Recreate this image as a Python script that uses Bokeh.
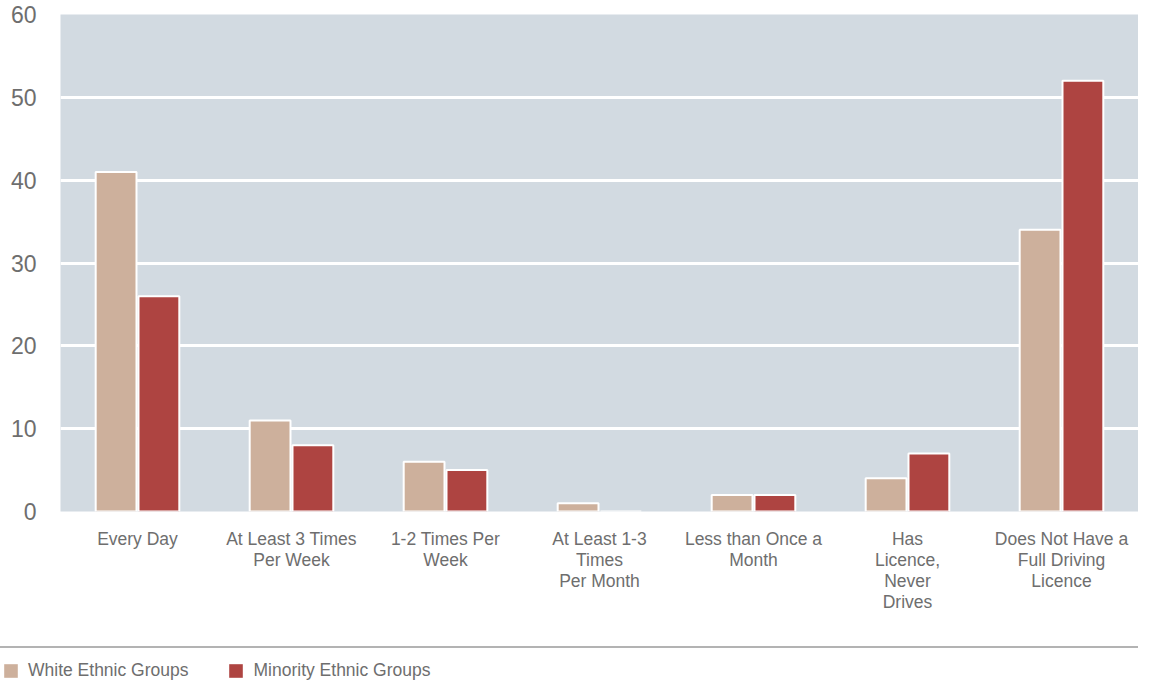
from bokeh.plotting import figure
from bokeh.models import (ColumnDataSource, FactorRange, FixedTicker, Range1d,
                          Legend, LegendItem, Div)
from bokeh.transform import dodge
from bokeh.layouts import column, row
from bokeh.embed import file_html
from bokeh.resources import INLINE

categories = ["Every Day", "At Least 3 Times\nPer Week", "1-2 Times Per\nWeek",
              "At Least 1-3\nTimes\nPer Month", "Less than Once a\nMonth",
              "Has\nLicence,\nNever\nDrives", "Does Not Have a\nFull Driving\nLicence"]
white_groups = [41, 11, 6, 1, 2, 4, 34]
minority_groups = [26, 8, 5, 0, 2, 7, 52]
series_names = ["White Ethnic Groups", "Minority Ethnic Groups"]
y_ticks = [0, 10, 20, 30, 40, 50, 60]

WHITE_C = "#cdb09c"
MINOR_C = "#ae4441"
BG = "#d2dae1"
TXT = "#6e6e6e"
FONT = "'Liberation Sans', Arial, sans-serif"

source = ColumnDataSource(dict(cat=categories, white=white_groups, minority=minority_groups))

p = figure(x_range=FactorRange(*categories), y_range=Range1d(0, 60),
           width=1138, height=646, output_backend="svg", toolbar_location=None,
           min_border_left=60, min_border_right=0, min_border_top=14, min_border_bottom=135,
           background_fill_color=BG, border_fill_color="white", outline_line_color=None)

p.vbar(x=dodge("cat", -0.139, range=p.x_range), top="white", width=0.265, source=source,
       fill_color=WHITE_C, line_color="white", line_width=2)
p.vbar(x=dodge("cat", 0.139, range=p.x_range), top="minority", width=0.265, source=source,
       fill_color=MINOR_C, line_color="white", line_width=2)

p.xgrid.grid_line_color = None
p.ygrid.grid_line_color = "white"
p.ygrid.grid_line_width = 3
p.yaxis.ticker = FixedTicker(ticks=y_ticks)

for ax in (p.xaxis[0], p.yaxis[0]):
    ax.axis_line_color = None
    ax.major_tick_line_color = None
    ax.minor_tick_line_color = None
    ax.major_label_text_color = TXT
    ax.major_label_text_font = FONT

p.yaxis.major_label_text_font_size = "23px"
p.yaxis.major_label_standoff = 18
p.xaxis.major_label_text_font_size = "17.5px"
p.xaxis.major_label_standoff = 11
p.xaxis.major_label_text_line_height = 1.05

# separator line
sep = Div(text="", width=1138, height=2, margin=0,
          styles={"background-color": "#b3b3b3"})

# legend strip
p2 = figure(width=1138, height=36, x_range=Range1d(0, 1138), y_range=Range1d(0, 36),
            output_backend="svg", toolbar_location=None, min_border=0,
            min_border_left=0, min_border_right=0,
            outline_line_color=None, x_axis_type=None, y_axis_type=None)
p2.grid.visible = False
dummy = ColumnDataSource(dict(x=[-1000], top=[0]))
r1 = p2.vbar(x="x", top="top", width=1, source=dummy, fill_color=WHITE_C, line_color=None)
r2 = p2.vbar(x="x", top="top", width=1, source=dummy, fill_color=MINOR_C, line_color=None)
legend = Legend(items=[LegendItem(label=series_names[0], renderers=[r1]),
                       LegendItem(label=series_names[1], renderers=[r2])],
                orientation="horizontal", location=(2, 3), padding=0, margin=0,
                spacing=39, glyph_width=17, glyph_height=17, label_standoff=9,
                label_height=17, label_text_font=FONT, label_text_font_size="17.5px",
                label_text_color=TXT, border_line_color=None, background_fill_alpha=0)
p2.add_layout(legend)

layout = column(p, sep, row(p2, spacing=0), spacing=0)
open("out.html", "w").write(file_html(layout, INLINE))
